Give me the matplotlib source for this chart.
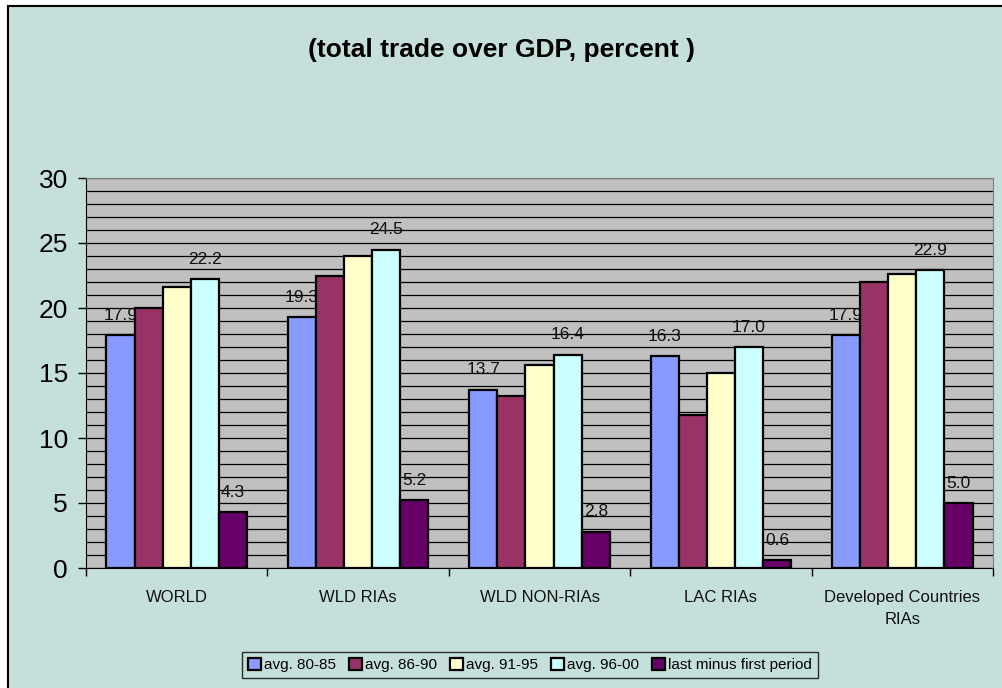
import numpy as np
import matplotlib.pyplot as plt
from matplotlib.patches import Rectangle

plt.rcParams['font.family'] = ['Liberation Sans', 'DejaVu Sans']

categories = ['WORLD', 'WLD RIAs', 'WLD NON-RIAs', 'LAC RIAs', 'Developed Countries\nRIAs']
series_names = ['avg. 80-85', 'avg. 86-90', 'avg. 91-95', 'avg. 96-00', 'last minus first period']
avg_80_85 = [17.9, 19.3, 13.7, 16.3, 17.9]
avg_86_90 = [20.0, 22.5, 13.2, 11.8, 22.0]
avg_91_95 = [21.6, 24.0, 15.6, 15.0, 22.6]
avg_96_00 = [22.2, 24.5, 16.4, 17.0, 22.9]
last_minus_first = [4.3, 5.2, 2.8, 0.6, 5.0]

series = [avg_80_85, avg_86_90, avg_91_95, avg_96_00, last_minus_first]
colors = ['#8899FF', '#993366', '#FFFFCC', '#CCFFFF', '#660066']
labelled = [0, 3, 4]  # series that carry value labels

bg = '#C5DFDA'
W, H = 1002, 688
fig = plt.figure(figsize=(W / 100, H / 100), dpi=100, facecolor='white')

# chart area border (left/top edges visible, the rest runs off the image)
fig.patches.append(Rectangle((8 / W, -0.01), 1.02, 1 - 6 / H + 0.01,
                             transform=fig.transFigure, facecolor=bg,
                             edgecolor='black', linewidth=1.5, zorder=-10))

ax = fig.add_axes([86 / W, (H - 568) / H, (993 - 86) / W, 390 / H])
ax.set_facecolor('#C0C0C0')

x = np.arange(len(categories))
bw = 0.155
offsets = (np.arange(5) - 2) * bw
for i, (vals, col) in enumerate(zip(series, colors)):
    bars = ax.bar(x + offsets[i], vals, width=bw, color=col, edgecolor='black',
                  linewidth=1.6, label=series_names[i], zorder=3)
    if i in labelled:
        for b, v in zip(bars, vals):
            ax.annotate(f'{v:.1f}', (b.get_x() + b.get_width() / 2, v),
                        xytext=(0, 9), textcoords='offset points',
                        ha='center', va='bottom', fontsize=12.5, color='#111111',
                        zorder=2)

ax.set_xlim(-0.5, len(categories) - 0.5)
ax.set_ylim(0, 30)
ax.set_yticks(range(0, 31, 5))
ax.set_yticks(range(0, 31, 1), minor=True)
ax.grid(axis='y', which='both', color='black', linewidth=0.9, zorder=1)
ax.set_axisbelow(True)
ax.tick_params(axis='y', which='major', labelsize=19, length=6, width=1,
               direction='out', pad=7)
ax.tick_params(axis='y', which='minor', length=0)

ax.set_xticks(x)
ax.set_xticklabels(categories, fontsize=12, color='#111111', linespacing=1.6)
ax.tick_params(axis='x', which='major', length=0, pad=16)
ax.set_xticks(np.arange(-0.5, len(categories)), minor=True)
ax.tick_params(axis='x', which='minor', length=6, direction='out', width=1)

for side in ['top', 'right']:
    ax.spines[side].set_color('#808080')
ax.spines['left'].set_color('black')
ax.spines['bottom'].set_color('black')

fig.text(0.5, 1 - 50 / H, '(total trade over GDP, percent )', ha='center',
         va='center', fontsize=19, fontweight='bold')

leg = fig.legend(loc='center', bbox_to_anchor=(530 / W, 1 - 665 / H), ncol=5,
                 fontsize=11, frameon=True, fancybox=False, handlelength=0.8,
                 handleheight=0.8, handletextpad=0.2, columnspacing=0.9,
                 borderpad=0.4)
leg.get_frame().set_edgecolor('black')
leg.get_frame().set_facecolor(bg)
leg.get_frame().set_linewidth(1)

fig.savefig('out.png', dpi=100, facecolor=fig.get_facecolor())
